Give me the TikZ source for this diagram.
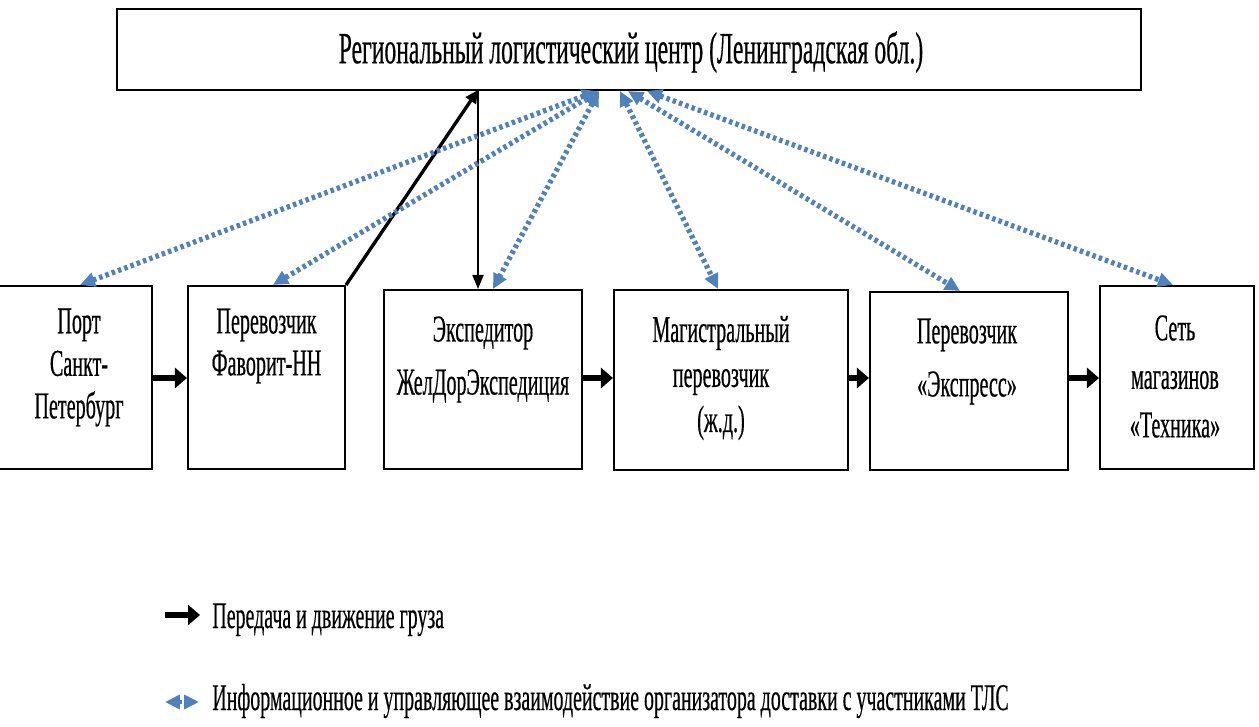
\documentclass[tikz,border=0pt]{standalone}
\usepackage{fontspec}
\setmainfont{Liberation Serif}[FakeStretch=0.53,FakeBold=0.4]
\usetikzlibrary{arrows.meta}
\definecolor{infoblue}{RGB}{79,129,189}
\begin{document}
\begin{tikzpicture}[x=0.02cm,y=-0.02cm,
  box/.style={draw=black, line width=1.2pt, inner sep=0pt},
  toptext/.style={font=\fontsize{25.4}{30}\selectfont, inner sep=0pt},
  bt/.style={font=\fontsize{21.6}{#1}\selectfont, align=center, inner sep=0pt},
  legtext/.style={font=\fontsize{21.4}{24}\selectfont, inner sep=0pt, anchor=base west},
  cargo/.style={draw=black, line width=3.4pt, -{Triangle[length=0.24cm,width=0.4cm]}},
  feed/.style={draw=black, line width=1.9pt, -{Triangle[length=0.26cm,width=0.24cm]}},
  down/.style={draw=black, line width=1.2pt, -{Triangle[length=0.28cm,width=0.22cm]}},
  info/.style={draw=infoblue, line width=3pt, dash pattern=on 2pt off 1.8pt,
    {Triangle[length=0.3cm,width=0.28cm]}-{Triangle[length=0.3cm,width=0.28cm]}}
]
\useasboundingbox (0,0) rectangle (1259,727);

% boxes
\node[box, minimum width=20.48cm, minimum height=1.62cm] (top) at (629,49.5) {};
\node[box, minimum width=3.08cm, minimum height=3.66cm] (b1) at (75,377.5) {};
\node[box, minimum width=3.14cm, minimum height=3.66cm] (b2) at (266.5,377.5) {};
\node[box, minimum width=3.96cm, minimum height=3.58cm] (b3) at (483,379.5) {};
\node[box, minimum width=4.68cm, minimum height=3.6cm] (b4) at (731,380) {};
\node[box, minimum width=3.96cm, minimum height=3.56cm] (b5) at (969,381) {};
\node[box, minimum width=3.08cm, minimum height=3.66cm] (b6) at (1177,377.5) {};

% texts
\node[toptext] (ttop) at (631,52) {Региональный логистический центр (Ленинградская обл.)};
\node[bt=24.2pt] (t1) at (79,367.5) {Порт\\Санкт-\\Петербург};
\node[bt=23.9pt] (t2) at (266.5,346) {Перевозчик\\Фаворит-НН};
\node[bt=30.2pt] (t3) at (483,359.5) {Экспедитор\\ЖелДорЭкспедиция};
\node[bt=25.6pt] (t4) at (721,378) {Магистральный\\перевозчик\\(ж.д.)};
\node[bt=30.2pt] (t5) at (967,361.5) {Перевозчик\\«Экспресс»};
\node[bt=27.6pt] (t6) at (1175,376.5) {Сеть\\магазинов\\«Техника»};

% cargo flow
\draw[cargo] (b1.east |- 0,378) -- (b2.west |- 0,378);
\draw[cargo] (b3.east |- 0,378) -- (b4.west |- 0,378);
\draw[cargo] (b4.east |- 0,378) -- (b5.west |- 0,378);
\draw[cargo] (b5.east |- 0,378) -- (b6.west |- 0,378);

\coordinate (hub) at (478,90);
\draw[feed] (b2.north east) -- (hub);
\draw[down] (hub) -- (hub |- b3.north);

% information links
\draw[info] ([xshift=-0.64cm]top.south) -- ([xshift=0.1cm]b1.north);
\draw[info] ([xshift=-0.60cm]top.south) -- ([xshift=0.13cm]b2.north);
\draw[info] ([xshift=-0.60cm]top.south) -- ([xshift=0.2cm]b3.north);
\draw[info] ([xshift=-0.18cm]top.south) -- ([xshift=-0.26cm]b4.north);
\draw[info] ([xshift=-0.02cm]top.south) -- ([xshift=-0.18cm]b5.north);
\draw[info] ([xshift=0.36cm]top.south) -- ([xshift=-0.08cm]b6.north);

% legend
\coordinate (la) at (165,615);
\coordinate (lb) at (200,615);
\draw[cargo] (la) -- (lb);
\node[legtext] (leg1) at (212,628) {Передача и движение груза};
\coordinate (lc) at (165,702);
\coordinate (ld) at (199,702);
\draw[info, line width=2.2pt, dash pattern=on 1.4pt off 1.4pt] (lc) -- (ld);
\node[legtext] (leg2) at (212,710) {Информационное и управляющее взаимодействие организатора доставки с участниками ТЛС};
\end{tikzpicture}
\end{document}
